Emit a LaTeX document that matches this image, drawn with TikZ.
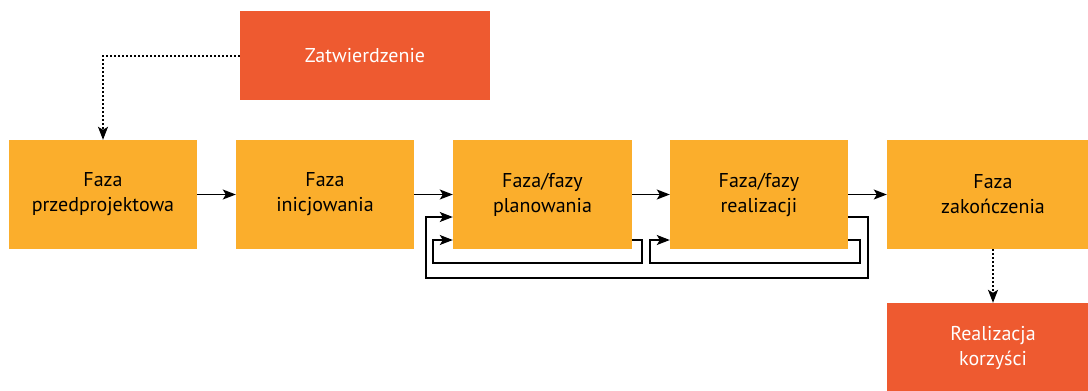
\documentclass[tikz,border=0pt]{standalone}
\usepackage{fontspec}
\setmainfont{PT Sans}
\usetikzlibrary{arrows.meta}
\definecolor{yel}{HTML}{FBAE2C}
\definecolor{red1}{HTML}{EE5A30}
\begin{document}
\begin{tikzpicture}[x=1pt,y=-1pt,
  ybox/.style={fill=yel,draw=none,inner sep=0pt,align=center,font=\fontsize{20}{25}\selectfont},
  rbox/.style={fill=red1,draw=none,inner sep=0pt,align=center,text=white,font=\fontsize{20}{25}\selectfont},
  arr/.style={line width=1.3pt,-{Stealth[length=13pt,width=10pt,inset=3pt]}},
  dot/.style={arr,dash pattern=on 2pt off 2pt}]
\useasboundingbox (0,0) rectangle (1088,391);
\node[rbox,minimum width=250pt,minimum height=89pt] (zat) at (365,55.5) {Zatwierdzenie};
\node[ybox,minimum width=188pt,minimum height=109pt] (f1) at (103,194.5) {Faza\\przedprojektowa};
\node[ybox,minimum width=178pt,minimum height=109pt] (f2) at (325,194.5) {Faza\\inicjowania};
\node[ybox,minimum width=179pt,minimum height=109pt] (f3) at (542.5,194.5) {Faza/fazy\\planowania};
\node[ybox,minimum width=178pt,minimum height=109pt] (f4) at (759,194.5) {Faza/fazy\\realizacji};
\node[ybox,minimum width=212pt,minimum height=109pt] (f5) at (993,194.5) {Faza\\zakończenia};
\node[rbox,minimum width=212pt,minimum height=89pt] (rk) at (993,347.5) {Realizacja\\korzyści};
\draw[arr] (f1) -- (f2);
\draw[arr] (f2) -- (f3);
\draw[arr] (f3) -- (f4);
\draw[arr] (f4) -- (f5);
\draw[dot] (zat.west |- 0,56) -| (f1.north);
\draw[dot] (f5) -- (rk);
% inner loops
\draw[arr] (f3.east |- 0,240) -- (642,240) -- (642,263) -- (433,263) -- (433,240) -- (f3.west |- 0,240);
\draw[arr] (f4.east |- 0,240) -- (860,240) -- (860,263) -- (650,263) -- (650,240) -- (f4.west |- 0,240);
% outer loop
\draw[arr] (f4.east |- 0,217) -- (868,217) -- (868,278) -- (426,278) -- (426,217) -- (f3.west |- 0,217);
\end{tikzpicture}
\end{document}
